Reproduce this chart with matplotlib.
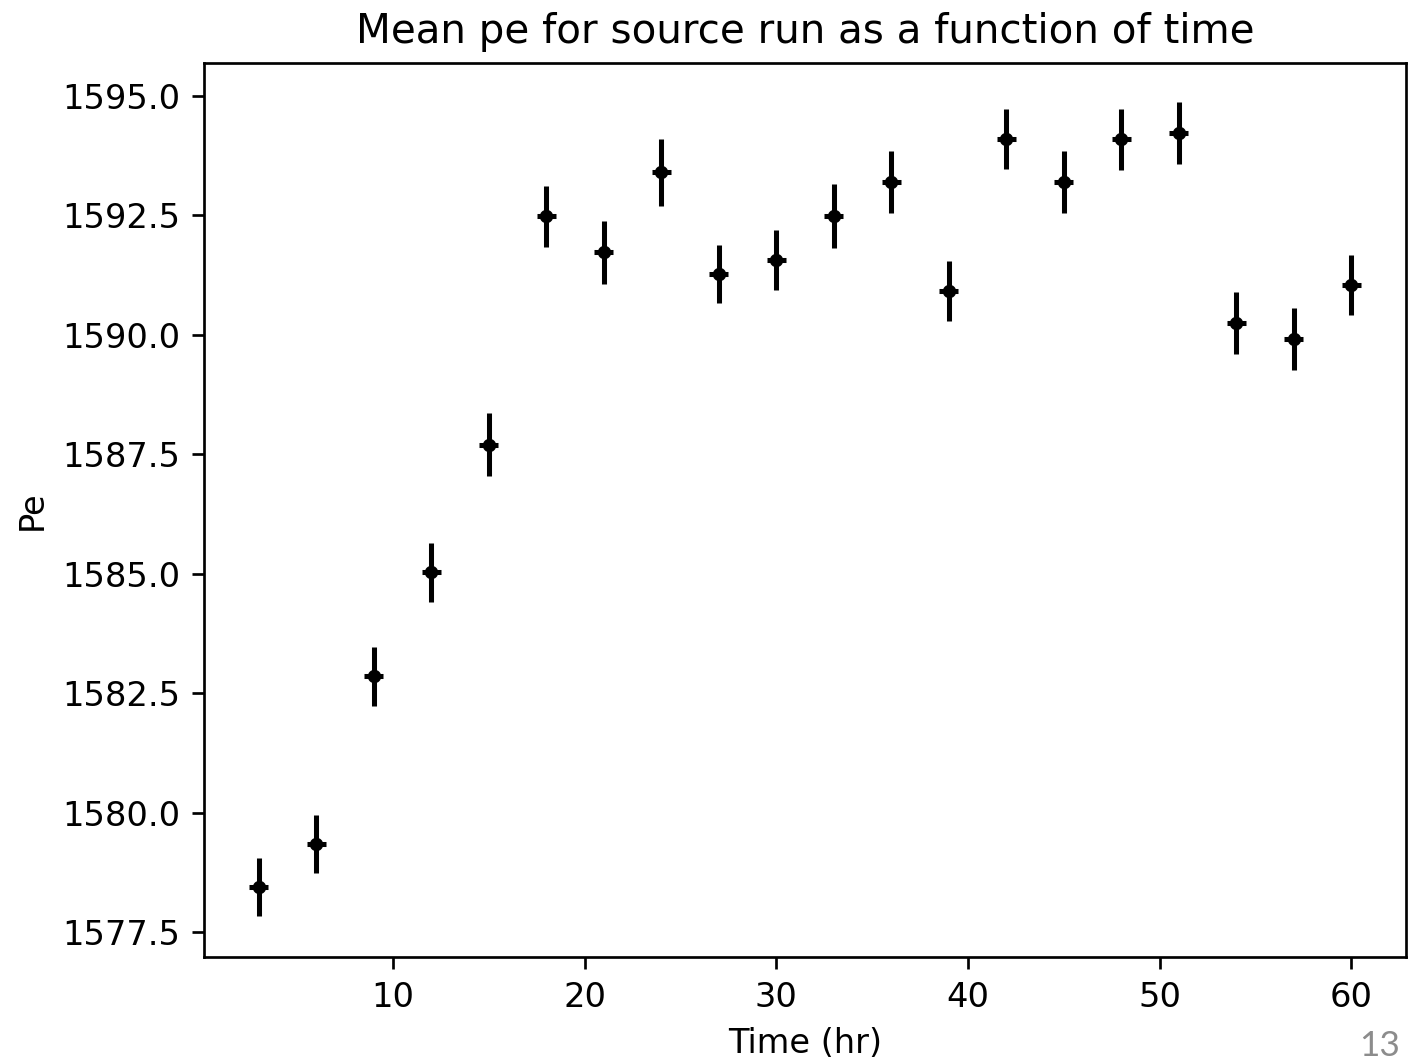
import matplotlib
matplotlib.use("Agg")
import matplotlib.pyplot as plt

time_hr = [3, 6, 9, 12, 15, 18, 21, 24, 27, 30, 33, 36, 39, 42, 45, 48, 51, 54, 57, 60]
mean_pe = [1578.44, 1579.34, 1582.85, 1585.03, 1587.70, 1592.47, 1591.72, 1593.39,
           1591.27, 1591.56, 1592.48, 1593.19, 1590.91, 1594.09, 1593.19, 1594.08,
           1594.21, 1590.25, 1589.90, 1591.03]
pe_err = [0.61, 0.60, 0.61, 0.62, 0.65, 0.64, 0.66, 0.70, 0.60, 0.62, 0.66, 0.64,
          0.63, 0.62, 0.64, 0.63, 0.65, 0.65, 0.65, 0.63]
time_err = 0.5

title = "Mean pe for source run as a function of time"
xlabel = "Time (hr)"
ylabel = "Pe"
slide_number = "13"

dpi = 242
fig = plt.figure(figsize=(1417 / dpi, 1061 / dpi), dpi=dpi)
ax = fig.add_axes([204 / 1417, 104 / 1061, 1202 / 1417, 894 / 1061])

ax.errorbar(time_hr, mean_pe, yerr=pe_err, xerr=time_err, fmt='k.', ecolor='k')
ax.set_xlim(0.15, 62.85)
ax.set_ylim(1576.98, 1595.68)
ax.set_title(title)
ax.set_xlabel(xlabel)
ax.set_ylabel(ylabel)

fig.text(1380 / 1417, 1 - 1046 / 1061, slide_number, color='#8c8c8c',
         fontsize=10.5, family=['Lato', 'DejaVu Sans'], ha='center', va='center')

fig.savefig("out.png", dpi=dpi)
